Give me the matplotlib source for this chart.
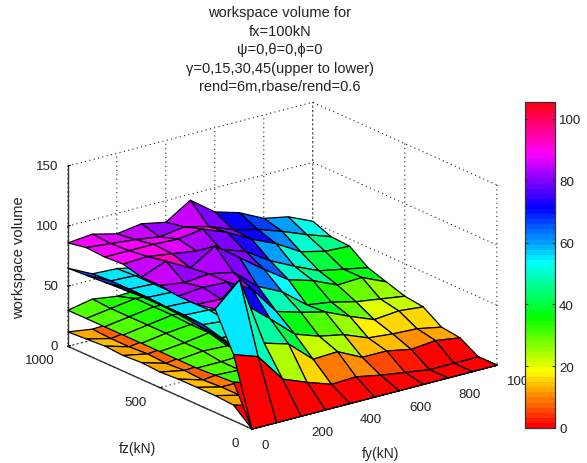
import numpy as np
import matplotlib
matplotlib.use('Agg')
import matplotlib.pyplot as plt
from matplotlib.cm import ScalarMappable
from matplotlib.colors import Normalize
from mpl_toolkits.mplot3d import proj3d

plt.rcParams['font.family'] = ['Liberation Sans', 'DejaVu Sans']
plt.rcParams['grid.linestyle'] = (0, (1, 3))
plt.rcParams['grid.color'] = '#222222'
plt.rcParams['grid.linewidth'] = 0.8

fy = [0, 100, 200, 300, 400, 500, 600, 700, 800, 900, 1000]
fz = [0, 100, 200, 300, 400, 500, 600, 700, 800, 900, 1000]
fy_ticks = [0, 200, 400, 600, 800, 1000]
fz_ticks = [0, 500, 1000]
z_ticks = [0, 50, 100, 150]
bar_ticks = [0, 20, 40, 60, 80, 100]
bar_max = 105.5

# one row per fz, one column per fy
gamma0 = [[0, 0, 0, 0, 0, 0, 0, 0, 0, 0, 0],
          [55, 48, 24, 16, 9, 10, 6, 3, 0, 0, 0],
          [86, 105, 47, 41, 23, 24, 14, 14, 10, 12, 9],
          [83, 82, 72, 55, 37, 30, 26, 18, 16, 15, 11],
          [83, 85, 84, 73, 49, 43, 38, 29, 21, 23, 21],
          [85, 82, 84, 80, 63, 53, 37, 34, 29, 26, 23],
          [85, 93, 82, 95, 80, 65, 51, 45, 36, 37, 28],
          [89, 90, 87, 84, 80, 73, 60, 50, 41, 37, 33],
          [88, 88, 88, 87, 90, 82, 71, 62, 50, 45, 44],
          [89, 87, 85, 82, 85, 80, 72, 67, 60, 52, 45],
          [86, 88, 83, 86, 82, 95, 80, 74, 64, 60, 51]]

gamma15 = [[0, 0, 0, 0, 0, 0, 0, 0, 0, 0, 0],
           [60, 40, 22, 14, 9, 7, 5, 3, 2, 1, 0],
           [64, 46, 44, 36, 22, 20, 14, 12, 8, 7, 5],
           [66, 50, 48, 42, 32, 25, 18, 16, 14, 10, 7],
           [68, 54, 52, 46, 38, 30, 24, 20, 18, 14, 10],
           [69, 55, 54, 48, 40, 34, 28, 24, 20, 16, 12],
           [69, 55, 54, 50, 44, 36, 30, 26, 22, 18, 14],
           [68, 56, 55, 50, 46, 40, 32, 28, 24, 20, 16],
           [67, 56, 55, 52, 48, 42, 36, 30, 26, 22, 18],
           [66, 56, 55, 52, 48, 44, 38, 32, 28, 24, 20],
           [65, 55, 54, 50, 50, 44, 40, 34, 30, 26, 22]]

gamma30 = [[0, 0, 0, 0, 0, 0, 0, 0, 0, 0, 0],
           [32, 26, 16, 10, 6, 4, 3, 2, 1, 1, 0],
           [31, 30, 26, 20, 14, 10, 8, 6, 5, 4, 3],
           [30, 30, 31, 22, 18, 14, 10, 8, 6, 5, 4],
           [30, 32, 31, 29, 20, 16, 12, 10, 8, 6, 5],
           [30, 32, 35, 30, 26, 18, 14, 11, 9, 7, 6],
           [30, 33, 35, 34, 28, 20, 15, 12, 10, 8, 7],
           [30, 33, 36, 35, 29, 22, 16, 13, 11, 9, 8],
           [30, 33, 36, 35, 30, 24, 17, 14, 12, 10, 8],
           [30, 33, 36, 34, 30, 24, 18, 15, 12, 10, 9],
           [30, 34, 31, 32, 28, 24, 18, 15, 13, 11, 9]]

gamma45 = [[0, 0, 0, 0, 0, 0, 0, 0, 0, 0, 0],
           [13, 7, 5, 3, 2, 2, 1, 1, 0, 0, 0],
           [14, 9, 8, 6, 4, 3, 2, 2, 1, 1, 1],
           [14, 9, 9, 7, 5, 4, 3, 2, 2, 1, 1],
           [14, 8, 10, 9, 6, 5, 4, 3, 2, 2, 1],
           [13, 9, 10, 9, 7, 5, 4, 3, 3, 2, 2],
           [14, 8, 11, 10, 7, 6, 4, 4, 3, 2, 2],
           [13, 9, 11, 10, 8, 6, 5, 4, 3, 3, 2],
           [14, 8, 11, 11, 8, 6, 5, 4, 3, 3, 2],
           [13, 8, 11, 10, 8, 7, 5, 4, 4, 3, 3],
           [12, 9, 10, 11, 9, 7, 5, 5, 4, 3, 3]]

title_lines = ['workspace volume for', 'fx=100kN', 'ψ=0,θ=0,ϕ=0',
               'γ=0,15,30,45(upper to lower)', 'rend=6m,rbase/rend=0.6']

W, H = 587, 464
fig = plt.figure(figsize=(W / 100, H / 100), dpi=100)
ax = fig.add_axes([0.05, 0.05, 0.85, 0.7], projection='3d', computed_zorder=False)
ax.set_proj_type('ortho')
ax.view_init(elev=20, azim=232.7)
ax.set_box_aspect((308, 304, 192))
ax.patch.set_alpha(0)
ax.set_xlim(0, 1000, view_margin=0)
ax.set_ylim(0, 1000, view_margin=0)
ax.set_zlim(0, 150, view_margin=0)

cmap = plt.get_cmap('hsv', 64)
norm = Normalize(0, bar_max)
FY, FZ = np.meshgrid(fy, fz)
# lowest first, the upper ones paint over
for order, vals in enumerate([gamma45, gamma30, gamma15, gamma0]):
    Z = np.array(vals, dtype=float)
    ax.plot_surface(FY, FZ, Z, facecolors=cmap(norm(Z)), rstride=1, cstride=1,
                    edgecolor='k', linewidth=0.9, shade=False, zorder=order + 2)

ax.set_xticks(fy_ticks, [''] * len(fy_ticks))
ax.set_yticks(fz_ticks, [''] * len(fz_ticks))
ax.set_zticks(z_ticks, [''] * len(z_ticks))
for axis in (ax.xaxis, ax.yaxis, ax.zaxis):
    axis.set_pane_color((1, 1, 1, 0))
    axis.pane.set_edgecolor('none')
    axis.line.set_color('#333333')
    axis.line.set_linewidth(1.0)
    axis._axinfo['tick']['inward_factor'] = 0
    axis._axinfo['tick']['outward_factor'] = 0.12


def corner_px(a, b, c):
    xs, ys, _ = proj3d.proj_transform(a, b, c, ax.get_proj())
    return ax.transData.transform((xs, ys))


# move the axes so the box corners land where they are in the picture
for i in range(3):
    fig.canvas.draw()
    front = corner_px(0, 0, 0)
    left = corner_px(0, 1000, 0)
    right = corner_px(1000, 0, 0)
    scale = (497 - 68) / (right[0] - left[0])
    pos = ax.get_position(original=True)
    dx = (252 - front[0]) / W
    dy = (H - 430 - front[1]) / H
    cx, cy = pos.x0 + pos.width / 2 + dx, pos.y0 + pos.height / 2 + dy
    w, h = pos.width * scale, pos.height * scale
    ax.set_position([cx - w / 2, cy - h / 2, w, h])
fig.canvas.draw()


# tick labels as plain 2d text hung off the projected tick, in the axes so the colorbar covers 1000
def tick_label(text, point, off, ha):
    ax.annotate(text, xy=corner_px(*point), xycoords='figure pixels', xytext=off,
                textcoords='offset pixels', ha=ha, va='center', fontsize=9.6, color='#222222')


for v in fy_ticks:
    tick_label(str(v), (v, 0, 0), (10, -16), 'left')
for v in fz_ticks:
    tick_label(str(v), (0, v, 0), (-13, -14), 'right')
for v in z_ticks:
    tick_label(str(v), (0, 1000, v), (-10, 0), 'right')

cax = fig.add_axes([525 / W, (H - 429) / H, 30 / W, 326 / H])
cb = fig.colorbar(ScalarMappable(norm=norm, cmap=cmap), cax=cax, ticks=bar_ticks)
cb.outline.set_edgecolor('#333333')
cb.outline.set_linewidth(0.9)
cb.ax.tick_params(direction='in', length=2, left=True, right=True, pad=3,
                  labelsize=9.6, labelcolor='#222222', color='#333333')

for i, line in enumerate(title_lines):
    fig.text(280 / W, 1 - (13 + 18.6 * i) / H, line, ha='center', va='center',
             fontsize=10.5, color='#222222')
fig.text(137 / W, 1 - 449 / H, 'fz(kN)', ha='center', va='center', fontsize=10, color='#222222')
fig.text(380 / W, 1 - 454 / H, 'fy(kN)', ha='center', va='center', fontsize=10, color='#222222')
fig.text(19 / W, 1 - 258 / H, 'workspace volume', rotation=90, ha='center', va='center',
         fontsize=10.6, color='#222222')

fig.savefig('out.png', dpi=100)
